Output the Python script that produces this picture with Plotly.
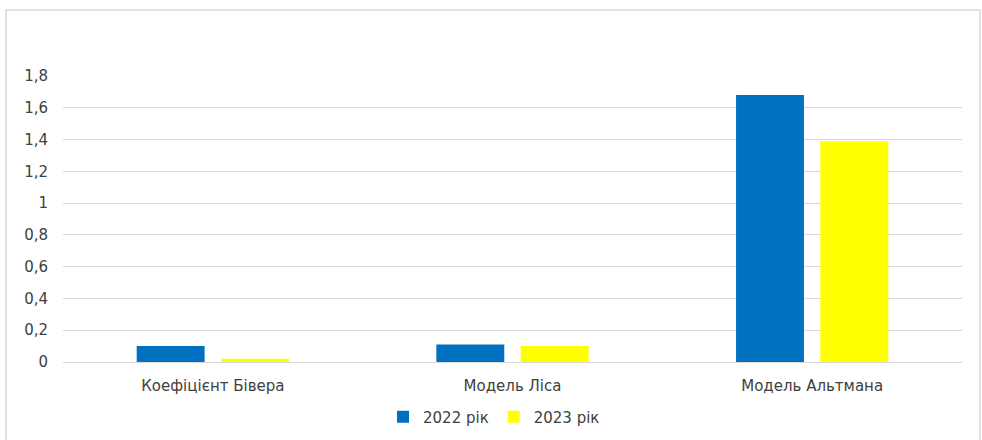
import plotly.graph_objects as go

categories = ["Коефіцієнт Бівера", "Модель Ліса", "Модель Альтмана"]
series_names = ["2022 рік", "2023 рік"]
values_2022 = [0.10, 0.11, 1.68]
values_2023 = [0.02, 0.10, 1.39]
colors = ["#0070C0", "#FFFF00"]

W, H = 982, 440
ml, mr, mt, mb = 63, 20, 76, 78
pw, ph = W - ml - mr, H - mt - mb

fig = go.Figure()
for name, vals, col in zip(series_names, [values_2022, values_2023], colors):
    fig.add_trace(go.Bar(x=categories, y=vals, name=name, marker=dict(color=col, line=dict(width=0))))

def px_x(p):
    return (p - ml) / pw

def px_y(p):
    return (H - mb - p) / ph

fig.add_shape(type="rect", xref="paper", yref="paper",
              x0=px_x(6), x1=px_x(980), y0=px_y(460), y1=px_y(10),
              line=dict(color="#D9D9D9", width=1.5), fillcolor="rgba(0,0,0,0)", layer="below")

FONT = "DejaVu Sans"
FS = 15
fig.update_layout(
    width=W, height=H,
    margin=dict(l=ml, r=mr, t=mt, b=mb, pad=0, autoexpand=False),
    paper_bgcolor="white", plot_bgcolor="white",
    separators=", ",
    barmode="group", bargap=0.437, bargroupgap=0.195,
    font=dict(family=FONT, size=FS, color="#595959"),
    showlegend=True,
    legend=dict(orientation="h", x=px_x(494), xanchor="center", y=px_y(417), yanchor="middle",
                font=dict(family=FONT, size=FS, color="#404040"), itemwidth=30, traceorder="normal"),
    xaxis=dict(showgrid=False, showline=True, linecolor="#D9D9D9", linewidth=1, ticks="",
               automargin=False,
               tickfont=dict(family=FONT, size=FS, color="#404040"), ticklabelstandoff=10),
    yaxis=dict(range=[0, 1.8], dtick=0.2, showgrid=True, gridcolor="#D9D9D9", gridwidth=1,
               automargin=False,
               zeroline=False, showline=False, ticks="", ticklabelstandoff=14,
               tickfont=dict(family=FONT, size=FS, color="#404040")),
)

fig.write_html("out.html", config={"displayModeBar": False},
               post_script="document.body.style.margin='0';document.body.style.padding='0';")
